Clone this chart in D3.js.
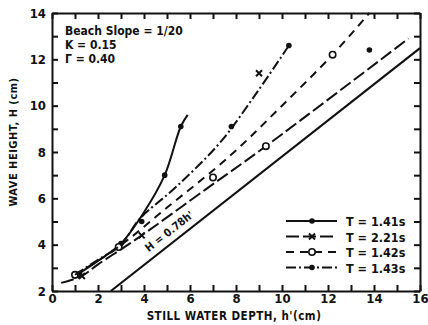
<!DOCTYPE html>
<html>
<head>
<meta charset="utf-8">
<script src="https://cdn.jsdelivr.net/npm/d3@7"></script>
<style>
  body { margin: 0; background: #fff; }
  svg { display: block; }
  text { font-family: "DejaVu Sans Condensed", "DejaVu Sans", sans-serif; fill: #111; }
  .axis path, .axis line { stroke: #111; stroke-width: 2; }
  .axis text { font-size: 13px; font-weight: bold; }
</style>
</head>
<body>
<svg id="chart"></svg>
<script>
// wave height vs still water depth
var t141 = [[1.0, 2.65], [2.0, 3.3], [3.0, 4.05], [4.0, 5.4], [4.9, 7.0], [5.6, 9.1], [5.9, 9.6]];
var t141Marks = [[1.0, 2.65], [3.0, 4.05], [4.9, 7.0], [5.6, 9.1]];

var t221 = [[0.4, 2.35], [1.3, 2.65], [2.0, 3.15], [3.0, 3.8], [3.9, 4.4], [6.7, 6.4], [9.3, 8.25], [15.5, 12.9]];
var t221Marks = [[1.3, 2.65], [3.9, 4.4], [9.0, 11.4]];

var t142 = [[1.0, 2.7], [2.0, 3.3], [2.9, 3.9], [5.0, 5.6], [7.7, 7.8], [10.0, 10.0], [12.2, 12.2], [13.8, 14.0]];
var t142Marks = [[1.0, 2.7], [2.9, 3.9], [7.0, 6.9], [9.3, 8.25], [12.2, 12.2]];

var t143 = [[1.0, 2.7], [2.0, 3.35], [3.0, 4.0], [3.8, 5.1], [5.4, 6.5], [7.3, 8.4], [9.0, 10.7], [10.3, 12.6]];
var t143Marks = [[1.2, 2.75], [3.9, 5.0], [7.8, 9.1], [10.3, 12.6], [13.8, 12.4]];

var breakLine = [[2.56, 2.0], [16, 12.48]]; // H = 0.78h'

var xTicks = d3.range(0, 17, 1);
var yTicks = d3.range(2, 15, 1);

var legendLabels = ["T = 1.41s", "T = 2.21s", "T = 1.42s", "T = 1.43s"];
var notes = ["Beach Slope = 1/20", "K = 0.15", "\u0393 = 0.40"];

var W = 428, H = 325;
var svg = d3.select("#chart").attr("width", W).attr("height", H);

var x = d3.scaleLinear().domain([0, 16]).range([52, 420]);
var y = d3.scaleLinear().domain([2, 14]).range([291, 13]);

// axes, ticks point inward
svg.append("g").attr("class", "axis")
	.attr("transform", "translate(0," + y(2) + ")")
	.call(d3.axisBottom(x).tickValues(xTicks).tickSizeInner(-6).tickSizeOuter(0).tickPadding(3)
		.tickFormat(d => d % 2 === 0 ? d : ""));
svg.append("g").attr("class", "axis")
	.attr("transform", "translate(" + x(0) + ",0)")
	.call(d3.axisLeft(y).tickValues(yTicks).tickSizeInner(-6).tickSizeOuter(0).tickPadding(6)
		.tickFormat(d => d % 2 === 0 ? d : ""));
svg.append("g").attr("class", "axis")
	.attr("transform", "translate(0," + y(14) + ")")
	.call(d3.axisTop(x).tickValues(xTicks).tickSizeInner(-6).tickSizeOuter(0).tickFormat(""));
svg.append("g").attr("class", "axis")
	.attr("transform", "translate(" + x(16) + ",0)")
	.call(d3.axisRight(y).tickValues(yTicks).tickSizeInner(-6).tickSizeOuter(0).tickFormat(""));

svg.append("text")
	.attr("x", 234).attr("y", 320)
	.attr("text-anchor", "middle")
	.style("font-size", "11.5px").style("font-weight", "bold").style("letter-spacing", "0.5px")
	.text("STILL WATER DEPTH, h'(cm)");
svg.append("text")
	.attr("transform", "translate(17,142) rotate(-90)")
	.attr("text-anchor", "middle")
	.style("font-size", "11px").style("font-weight", "bold").style("letter-spacing", "0.5px")
	.text("WAVE HEIGHT, H (cm)");

// annotation top left
svg.selectAll(".note").data(notes).enter().append("text")
	.attr("class", "note")
	.attr("x", 65).attr("y", (d, i) => 35 + i * 14)
	.style("font-size", "12px").style("font-weight", "bold")
	.text(d => d);

var line = d3.line().x(d => x(d[0])).y(d => y(d[1])).curve(d3.curveCatmullRom);
var straight = d3.line().x(d => x(d[0])).y(d => y(d[1]));

var styles = [
	{ data: t141, marks: t141Marks, dash: null, mark: "dot" },
	{ data: t221, marks: t221Marks, dash: "13,4", mark: "x" },
	{ data: t142, marks: t142Marks, dash: "8,6", mark: "open" },
	{ data: t143, marks: t143Marks, dash: "10,3,2,3", mark: "dot" }
];

function drawMark(g, kind, px, py) {
	if (kind === "x") {
		g.append("path").attr("d", "M" + (px - 3) + "," + (py - 3) + "L" + (px + 3) + "," + (py + 3) +
			"M" + (px + 3) + "," + (py - 3) + "L" + (px - 3) + "," + (py + 3))
			.attr("stroke", "#111").attr("stroke-width", 2);
	} else if (kind === "open") {
		g.append("circle").attr("cx", px).attr("cy", py).attr("r", 3.2)
			.attr("fill", "#fff").attr("stroke", "#111").attr("stroke-width", 1.6);
	} else {
		g.append("circle").attr("cx", px).attr("cy", py).attr("r", 2.8).attr("fill", "#111");
	}
}

var plot = svg.append("g");
styles.forEach(function (s) {
	plot.append("path")
		.attr("d", line(s.data))
		.attr("fill", "none").attr("stroke", "#111").attr("stroke-width", 2)
		.attr("stroke-dasharray", s.dash);
	s.marks.forEach(p => drawMark(plot, s.mark, x(p[0]), y(p[1])));
});

plot.append("path")
	.attr("d", straight(breakLine))
	.attr("fill", "none").attr("stroke", "#111").attr("stroke-width", 2.2);

var ang = Math.atan2(y(breakLine[0][1]) - y(breakLine[1][1]), x(breakLine[1][0]) - x(breakLine[0][0])) * 180 / Math.PI;
plot.append("text")
	.attr("transform", "translate(" + x(5.2) + "," + y(4.45) + ") rotate(" + (-ang) + ")")
	.attr("text-anchor", "middle")
	.style("font-size", "11px").style("font-weight", "bold")
	.text("H = 0.78h'");

// legend
var leg = svg.append("g");
legendLabels.forEach(function (lab, i) {
	var ly = 221 + i * 15.5;
	leg.append("line")
		.attr("x1", 286).attr("x2", 337).attr("y1", ly).attr("y2", ly)
		.attr("stroke", "#111").attr("stroke-width", 2)
		.attr("stroke-dasharray", styles[i].dash);
	drawMark(leg, styles[i].mark, 312, ly);
	leg.append("text")
		.attr("x", 346).attr("y", ly + 5)
		.style("font-size", "12.5px").style("font-weight", "bold")
		.text(lab);
});
</script>
</body>
</html>
